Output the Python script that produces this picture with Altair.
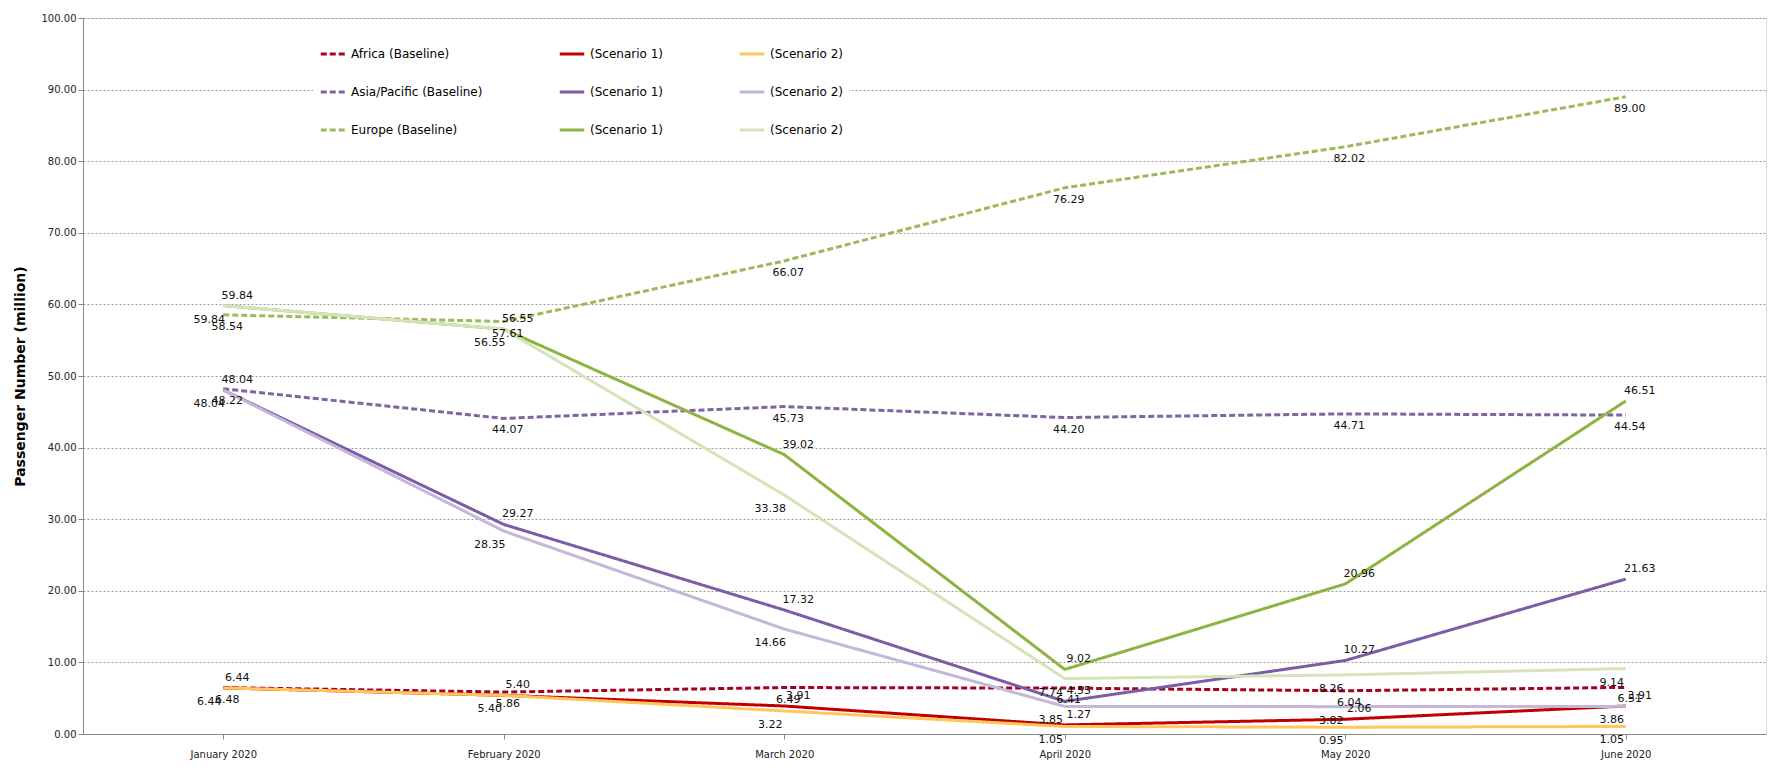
import altair as alt
import pandas as pd

months = ["January 2020", "February 2020", "March 2020", "April 2020", "May 2020", "June 2020"]

africa_base = [6.48, 5.86, 6.49, 6.41, 6.04, 6.51]
africa_s1 = [6.44, 5.40, 3.91, 1.27, 2.06, 3.91]
africa_s2 = [6.44, 5.40, 3.22, 1.05, 0.95, 1.05]
asia_base = [48.22, 44.07, 45.73, 44.20, 44.71, 44.54]
asia_s1 = [48.04, 29.27, 17.32, 4.55, 10.27, 21.63]
asia_s2 = [48.04, 28.35, 14.66, 3.85, 3.82, 3.86]
europe_base = [58.54, 57.61, 66.07, 76.29, 82.02, 89.00]
europe_s1 = [59.84, 56.55, 39.02, 9.02, 20.96, 46.51]
europe_s2 = [59.84, 56.55, 33.38, 7.74, 8.26, 9.14]

series = [
    ("a1", "Africa (Baseline)", africa_base, "#A50021", [6, 3]),
    ("a2", "(Scenario 1)", africa_s1, "#C00000", [1, 0]),
    ("a3", "(Scenario 2)", africa_s2, "#FFC65A", [1, 0]),
    ("b1", "Asia/Pacific (Baseline)", asia_base, "#8064A2", [6, 3]),
    ("b2", "(Scenario 1)", asia_s1, "#7A5DA6", [1, 0]),
    ("b3", "(Scenario 2)", asia_s2, "#C4B7D8", [1, 0]),
    ("c1", "Europe (Baseline)", europe_base, "#9BBB59", [6, 3]),
    ("c2", "(Scenario 1)", europe_s1, "#8DB443", [1, 0]),
    ("c3", "(Scenario 2)", europe_s2, "#D5E4B8", [1, 0]),
]

rows = []
for key, name, vals, _, _ in series:
    for m, v in zip(months, vals):
        rows.append({"key": key, "kind": key[1], "month": m, "value": v})
df = pd.DataFrame(rows)

keys = [s[0] for s in series]
names = {s[0]: s[1] for s in series}
label_expr = " : ".join(f"datum.label == '{k}' ? '{n}'" for k, n in names.items()) + " : ''"

x = alt.X("month:N", sort=months, title=None,
          axis=alt.Axis(labelAngle=0, labelFontSize=10, domainColor="#888", tickColor="#888",
                        labelColor="#222", labelPadding=10))
y = alt.Y("value:Q", title="Passenger Number (million)",
          scale=alt.Scale(domain=[0, 100], nice=False),
          axis=alt.Axis(values=list(range(0, 101, 10)), format=".2f", labelFontSize=10,
                        gridDash=[2, 2], gridColor="#999", domainColor="#888", tickColor="#888",
                        titleFontSize=14, titleFontWeight="bold", titleColor="#000",
                        labelColor="#222", titlePadding=14))

lines = alt.Chart(df).mark_line(strokeWidth=3).encode(
    x=x, y=y,
    color=alt.Color("key:N", sort=keys,
                    scale=alt.Scale(domain=keys, range=[s[3] for s in series]),
                    legend=alt.Legend(title=None, orient="none", legendX=230, legendY=16,
                                      columns=3, direction="horizontal", columnPadding=70,
                                      symbolType="stroke", symbolSize=600, symbolStrokeWidth=3,
                                      labelFontSize=12, labelLimit=300, rowPadding=18,
                                      fillColor="white", padding=6, labelExpr=label_expr)),
    strokeDash=alt.StrokeDash("key:N", sort=keys,
                              scale=alt.Scale(domain=keys, range=[s[4] for s in series]),
                              legend=None),
)

base_lbl = alt.Chart(df).encode(
    x=x, y=y, text=alt.Text("value:Q", format=".2f"),
)
labels = alt.layer(
    base_lbl.transform_filter("datum.kind == '1'").mark_text(dy=12, dx=4, fontSize=11, color="#111"),
    base_lbl.transform_filter("datum.kind == '2'").mark_text(dy=-10, dx=14, fontSize=11, color="#111"),
    base_lbl.transform_filter("datum.kind == '3'").mark_text(dy=14, dx=-14, fontSize=11, color="#111"),
)

chart = (
    alt.layer(lines, labels)
    .properties(width=1763, height=756,
                autosize=alt.AutoSizeParams(type="fit", contains="padding"))
    .configure_view(stroke=None)
    .configure(font="DejaVu Sans")
)

chart.save("out.html", embed_options={"renderer": "svg", "actions": False})
